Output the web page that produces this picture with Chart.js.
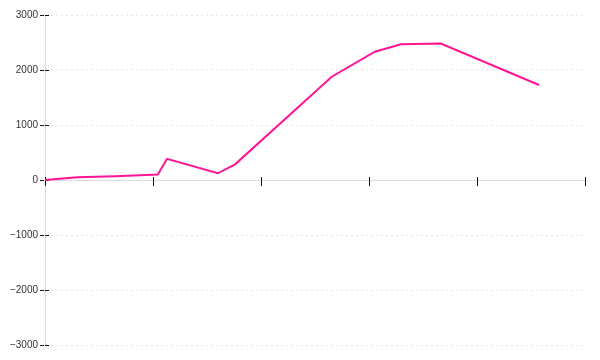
<!DOCTYPE html>
<html>
<head>
<meta charset="utf-8">
<script src="https://cdn.jsdelivr.net/npm/chart.js@4.4.0/dist/chart.umd.min.js"></script>
<style>
  html, body { margin: 0; padding: 0; background: #fff; }
</style>
</head>
<body>
<canvas id="chart" width="600" height="360"></canvas>
<script>
'use strict'

// values
const xValues = [0, 6, 13, 20.9, 22.6, 32, 35.2, 53.1, 61.1, 65.9, 73.3, 91.5];
const yValues = [0, 50, 68, 100, 385, 122, 285, 1878, 2333, 2467, 2482, 1727];
const xTicks = [0, 20, 40, 60, 80, 100];
const yTicks = [-3000, -2000, -1000, 0, 1000, 2000, 3000];

// tick marks that cross the axis lines, like in the original
const crossTicks = {
    id: 'crossTicks',
    beforeDatasetsDraw(chart) {
        const ctx = chart.ctx;
        const x = chart.scales.x;
        const y = chart.scales.y;
        const area = chart.chartArea;
        const y0 = Math.round(y.getPixelForValue(0)) + 0.5;

        ctx.save();
        ctx.lineWidth = 1;
        ctx.strokeStyle = '#dddddd';
        ctx.beginPath();
        ctx.moveTo(area.left, y0);
        ctx.lineTo(area.right, y0);
        ctx.stroke();

        ctx.strokeStyle = '#111111';
        xTicks.forEach(v => {
            const px = Math.round(x.getPixelForValue(v)) + 0.5;
            ctx.beginPath();
            ctx.moveTo(px, y0 - 3.5);
            ctx.lineTo(px, y0 + 5.5);
            ctx.stroke();
        });

        ctx.setLineDash([4, 1]);
        yTicks.forEach(v => {
            const py = Math.round(y.getPixelForValue(v)) + 0.5;
            ctx.beginPath();
            ctx.moveTo(area.left - 5, py);
            ctx.lineTo(area.left + 4, py);
            ctx.stroke();
        });
        ctx.restore();
    }
};

const ctx = document.getElementById('chart').getContext('2d');
const myChart = new Chart(ctx, {
    type: 'line',
    data: {
        datasets: [{
            data: xValues.map((v, i) => ({ x: v, y: yValues[i] })),
            borderColor: '#ff1493',
            borderWidth: 2,
            pointRadius: 0,
            tension: 0,
            fill: false
        }]
    },
    options: {
        responsive: false,
        animation: false,
        layout: {
            padding: { top: 15, right: 15, bottom: 15, left: 0 }
        },
        plugins: {
            legend: { display: false },
            tooltip: { enabled: false }
        },
        scales: {
            x: {
                type: 'linear',
                min: 0,
                max: 100,
                display: false
            },
            y: {
                type: 'linear',
                min: -3000,
                max: 3000,
                afterFit: (scale) => { scale.width = 45; },
                afterBuildTicks: (scale) => {
                    scale.ticks = yTicks.map(v => ({ value: v }));
                },
                ticks: {
                    padding: 7,
                    color: '#333333',
                    font: { family: 'Liberation Sans', size: 10 },
                    callback: (value) => value < 0 ? '\u2212' + Math.abs(value) : String(value)
                },
                grid: {
                    drawTicks: false,
                    color: (c) => c.tick && c.tick.value === 0 ? 'rgba(0,0,0,0)' : '#e6e6e6'
                },
                border: {
                    color: '#dddddd',
                    width: 1,
                    dash: [2, 3]
                }
            }
        }
    },
    plugins: [crossTicks]
});
</script>
</body>
</html>
